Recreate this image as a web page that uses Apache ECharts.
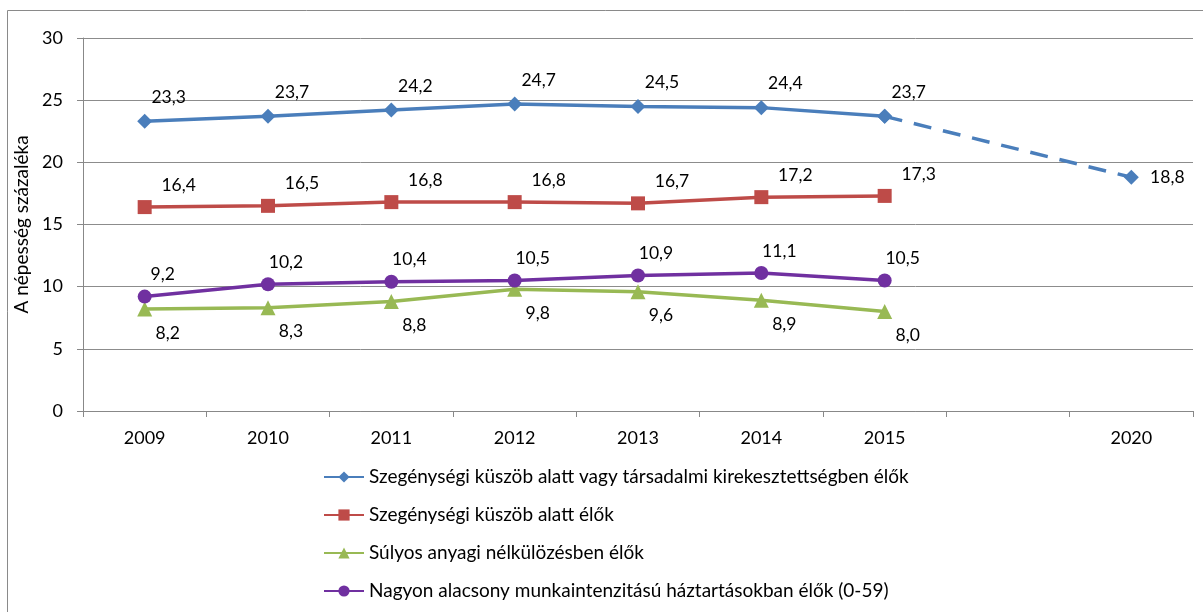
<!DOCTYPE html>
<html>
<head>
<meta charset="utf-8">
<script src="https://cdn.jsdelivr.net/npm/echarts@6/dist/echarts.min.js"></script>
<style>
html,body{margin:0;padding:0;background:#fff;}
#c{width:1203px;height:612px;}
</style>
</head>
<body>
<div id="c"></div>
<script>
var categories = ['2009','2010','2011','2012','2013','2014','2015','','2020'];
var yTicks = [0,5,10,15,20,25,30];
var seriesNames = [
  'Szegénységi küszöb alatt vagy társadalmi kirekesztettségben élők',
  'Szegénységi küszöb alatt élők',
  'Súlyos anyagi nélkülözésben élők',
  'Nagyon alacsony munkaintenzitású háztartásokban élők (0-59)'
];
var poverty_or_exclusion = [23.3, 23.7, 24.2, 24.7, 24.5, 24.4, 23.7, null, null];
var poverty_or_exclusion_target = [null, null, null, null, null, null, 23.7, null, 18.8];
var below_poverty = [16.4, 16.5, 16.8, 16.8, 16.7, 17.2, 17.3, null, null];
var material_deprivation = [8.2, 8.3, 8.8, 9.8, 9.6, 8.9, 8.0, null, null];
var low_work_intensity = [9.2, 10.2, 10.4, 10.5, 10.9, 11.1, 10.5, null, null];

var FONT = 'Lato';
var colors = ['#4A7EBB', '#BE4B48', '#98B954', '#7030A0'];
function fmt(p){ return p.value == null ? '' : String(p.value.toFixed(1)).replace('.', ','); }
function lbl(dx, dy){
  return {show:true, position:'inside', offset:[dx,dy], formatter:fmt,
          color:'#000', fontFamily:FONT, fontSize:17.5};
}
var chart = echarts.init(document.getElementById('c'), null, {renderer:'canvas'});
chart.setOption({
  animation:false,
  backgroundColor:'#fff',
  graphic:[{type:'rect', shape:{x:7.5,y:10.5,width:1300,height:700}, style:{fill:'none', stroke:'#8a8a8a', lineWidth:1}, silent:true}],
  grid:{left:83, right:10, top:38, bottom:201, containLabel:false},
  legend:{
    orient:'vertical', left:318, top:462,
    data:seriesNames,
    itemWidth:40, itemHeight:14, itemGap:18,
    textStyle:{fontFamily:FONT, fontSize:19, color:'#000', lineHeight:20}
  },
  xAxis:{
    type:'category', data:categories, boundaryGap:true,
    axisLine:{lineStyle:{color:'#888', width:1}},
    axisTick:{show:true, length:6, lineStyle:{color:'#888'}},
    axisLabel:{fontFamily:FONT, fontSize:18, color:'#000', margin:18, interval:0}
  },
  yAxis:{
    type:'value', min:yTicks[0], max:yTicks[yTicks.length-1], interval:5,
    name:'A népesség százaléka', nameLocation:'middle', nameGap:46, nameRotate:90,
    nameTextStyle:{fontFamily:FONT, fontSize:19, color:'#000'},
    axisLine:{show:true, lineStyle:{color:'#888', width:1}},
    axisTick:{show:true, length:6, lineStyle:{color:'#888'}},
    splitLine:{lineStyle:{color:'#8c8c8c', width:1}},
    axisLabel:{fontFamily:FONT, fontSize:18, color:'#000', margin:20}
  },
  series:[
    {name:seriesNames[0], type:'line', data:poverty_or_exclusion, color:colors[0],
     symbol:'diamond', symbolSize:15, lineStyle:{width:3.5}, z:4,
     label:lbl(24,-24)},
    {name:'target', type:'line', data:poverty_or_exclusion_target, color:colors[0], connectNulls:true,
     symbol:'diamond', symbolSize:15, lineStyle:{width:3.5, type:[18,12]}, z:3,
     label:{show:true, position:'inside', offset:[36,0], color:'#000', fontFamily:FONT, fontSize:17.5,
            formatter:function(p){return p.dataIndex===8?fmt(p):'';}}},
    {name:seriesNames[1], type:'line', data:below_poverty, color:colors[1],
     symbol:'rect', symbolSize:14, lineStyle:{width:3.5}, z:4,
     label:lbl(34,-22)},
    {name:seriesNames[2], type:'line', data:material_deprivation, color:colors[2],
     symbol:'triangle', symbolSize:15, lineStyle:{width:3.5}, z:4,
     label:lbl(23,24)},
    {name:seriesNames[3], type:'line', data:low_work_intensity, color:colors[3],
     symbol:'circle', symbolSize:14, lineStyle:{width:3.5}, z:5,
     label:lbl(18,-22)}
  ]
});
</script>
</body>
</html>
